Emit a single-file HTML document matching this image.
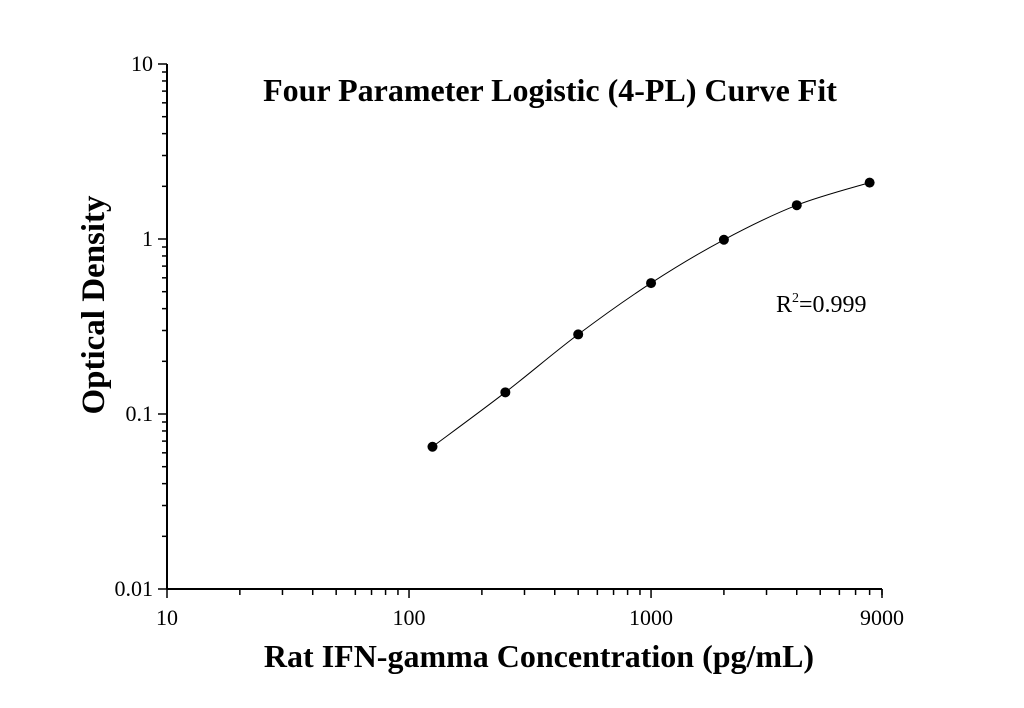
<!DOCTYPE html>
<html><head><meta charset="utf-8"><style>
body{margin:0;background:#fff}
svg{display:block;font-family:"Liberation Serif",serif}
</style></head><body>
<svg width="1024" height="708">
<text x="550" y="101" text-anchor="middle" font-size="32" font-weight="bold">Four Parameter Logistic (4-PL) Curve Fit</text>
<text transform="translate(104,305) rotate(-90)" text-anchor="middle" font-size="33" font-weight="bold">Optical Density</text>
<text x="539" y="667" text-anchor="middle" font-size="32" font-weight="bold">Rat IFN-gamma Concentration (pg/mL)</text>
<text x="776" y="312" font-size="24">R<tspan dy="-10" font-size="14">2</tspan><tspan dy="10">=0.999</tspan></text>
<g id="axes"></g><g id="marks"></g>
</svg>
<script>
const xValues=[125,250,500,1000,2000,4000,8000];
const yValues=[0.065,0.133,0.285,0.56,0.99,1.56,2.1];
const xTickLabels=["10","100","1000","9000"];
const xTickVals=[10,100,1000,9000];
const yTickLabels=["0.01","0.1","1","10"];
const yTickVals=[0.01,0.1,1,10];
const X0=167,X1=882,Y0=589,Y1=64;
const xs=v=>X0+(Math.log10(v)-1)/(Math.log10(9000)-1)*(X1-X0);
const ys=v=>Y0-(Math.log10(v)+2)/3*(Y0-Y1);
const NS="http://www.w3.org/2000/svg";
const ax=document.getElementById('axes'),mk=document.getElementById('marks');
function el(t,a,p){const e=document.createElementNS(NS,t);for(const k in a)e.setAttribute(k,a[k]);p.appendChild(e);return e;}
const xl=el('line',{x1:X0,y1:Y0,x2:X1,y2:Y0,stroke:'#000','stroke-width':2},ax);


const yl=el('line',{x1:X0,y1:Y0,x2:X0,y2:Y1,stroke:'#000','stroke-width':2},ax);


for(let d=10;d<=1000;d*=10){for(let m=1;m<10;m++){const v=d*m;if(v>9000)break;const x=xs(v);
el('line',{x1:x,y1:Y0,x2:x,y2:Y0+(m==1?9:6),stroke:'#000','stroke-width':1.5},ax);}}
el('line',{x1:xs(9000),y1:Y0,x2:xs(9000),y2:Y0+9,stroke:'#000','stroke-width':1.5},ax);
for(let d=0.01;d<10;d*=10){for(let m=1;m<10;m++){const y=ys(d*m);
el('line',{x1:X0,y1:y,x2:X0-(m==1?9:5),y2:y,stroke:'#000','stroke-width':1.5},ax);}}
el('line',{x1:X0,y1:Y1,x2:X0-9,y2:Y1,stroke:'#000','stroke-width':1.5},ax);
xTickVals.forEach((v,i)=>{const t=el('text',{x:xs(v),y:Y0+36,'text-anchor':'middle','font-size':22},ax);t.textContent=xTickLabels[i];

});
yTickVals.forEach((v,i)=>{const t=el('text',{x:X0-14,y:ys(v)+7,'text-anchor':'end','font-size':22},ax);t.textContent=yTickLabels[i];

});
const P=xValues.map((v,i)=>[xs(v),ys(yValues[i])]);
let d='M'+P[0][0]+','+P[0][1];
for(let i=0;i<P.length-1;i++){const p0=P[Math.max(0,i-1)],p1=P[i],p2=P[i+1],p3=P[Math.min(P.length-1,i+2)];
d+=' C'+(p1[0]+(p2[0]-p0[0])/6)+','+(p1[1]+(p2[1]-p0[1])/6)+' '+(p2[0]-(p3[0]-p1[0])/6)+','+(p2[1]-(p3[1]-p1[1])/6)+' '+p2[0]+','+p2[1];}
const c=el('path',{d:d,fill:'none',stroke:'#000','stroke-width':1},mk);


P.forEach(p=>{const e=el('circle',{cx:p[0],cy:p[1],r:5,fill:'#000'},mk);

});
</script>
</body></html>
